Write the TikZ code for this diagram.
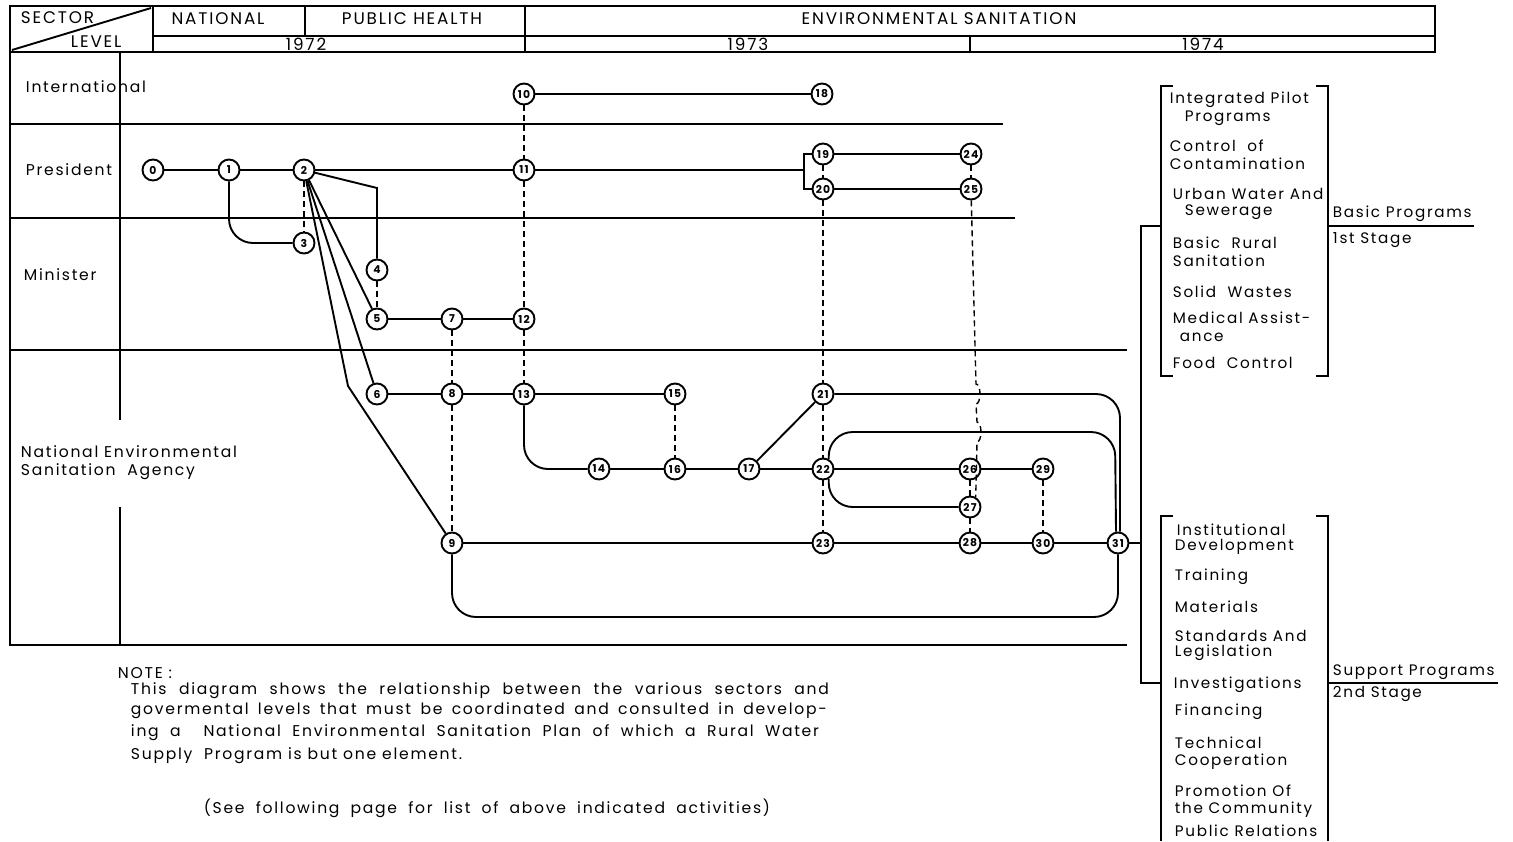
\documentclass[tikz,border=0pt]{standalone}
\usepackage{fontspec}
\setmainfont{Poppins}[LetterSpace=11.0]
\usetikzlibrary{positioning}

\begin{document}
\begin{tikzpicture}[x=0.5pt, y=-0.5pt, line width=0.95pt,
    every node/.style={font=\fontsize{7.8}{8}\selectfont, inner sep=0pt},
    evt/.style={circle, draw, line width=0.95pt, minimum size=10.5pt, inner sep=0pt,
      font=\fontsize{5.4}{5}\selectfont\bfseries},
    lbl/.style={anchor=west},
    progitem/.style={anchor=west, font=\fontsize{7.6}{8}\selectfont},
    hdr/.style={font=\fontsize{8.4}{8}\selectfont},
    depline/.style={line width=0.7pt, dash pattern=on 3pt off 2pt}]
  \useasboundingbox (0,0) rectangle (1513,841);
  % Header table
  \draw (10,6) rectangle (1435,52);
  \draw (153,36) -- (1435,36);
  \draw (153,6) -- (153,52) (305,6) -- (305,36) (525,6) -- (525,52) (970,36) -- (970,52);
  \draw (12,50) -- (151,8);
  \node[hdr, lbl] (hSector) at (20,18) {SECTOR};
  \node[hdr, lbl] (hLevel) at (70,42) {LEVEL};
  \node[hdr] (hNational) at (218,19) {NATIONAL};
  \node[hdr] (hPublic) at (412,19) {PUBLIC HEALTH};
  \node[hdr] (hEnv) at (939,19) {ENVIRONMENTAL  SANITATION};
  \node[hdr] (y72) at (306,44) {1972};
  \node[hdr] (y73) at (748,44) {1973};
  \node[hdr] (y74) at (1203,44) {1974};
  % Levels grid
  \draw (10,52) -- (10,645) -- (1127,645);
  \draw (120,52) -- (120,420) (120,507) -- (120,645);
  \draw (10,124) -- (1003,124);
  \draw (10,218) -- (1015,218);
  \draw (10,350) -- (1127,350);
  \node[lbl] (lvInt) at (25,87) {International};
  \node[lbl] (lvPres) at (25,170) {President};
  \node[lbl] (lvMin) at (23,275) {Minister};
  \node[lbl] (lvAgencyA) at (20,452) {National Environmental};
  \node[lbl] (lvAgencyB) at (20,472) {Sanitation\ \ Agency};
  % Activities
  \node[evt] (n0) at (153,170) {0};
  \node[evt] (n1) at (229,170) {1};
  \node[evt] (n2) at (304,170) {2};
  \node[evt] (n3) at (304,243) {3};
  \node[evt] (n4) at (377,270) {4};
  \node[evt] (n5) at (377,319) {5};
  \node[evt] (n6) at (377,394) {6};
  \node[evt] (n7) at (452,319) {7};
  \node[evt] (n8) at (452,394) {8};
  \node[evt] (n9) at (452,543) {9};
  \node[evt] (n10) at (524,94) {10};
  \node[evt] (n11) at (524,170) {11};
  \node[evt] (n12) at (524,319) {12};
  \node[evt] (n13) at (524,394) {13};
  \node[evt] (n14) at (599,469) {14};
  \node[evt] (n15) at (675,394) {15};
  \node[evt] (n16) at (675,469) {16};
  \node[evt] (n17) at (749,469) {17};
  \node[evt] (n18) at (822,94) {18};
  \node[evt] (n19) at (823,154) {19};
  \node[evt] (n20) at (823,189) {20};
  \node[evt] (n21) at (823,394) {21};
  \node[evt] (n22) at (823,469) {22};
  \node[evt] (n23) at (823,543) {23};
  \node[evt] (n24) at (971,154) {24};
  \node[evt] (n25) at (971,189) {25};
  \node[evt] (n26) at (970,469) {26};
  \node[evt] (n27) at (970,507) {27};
  \node[evt] (n28) at (970,543) {28};
  \node[evt] (n29) at (1043,469) {29};
  \node[evt] (n30) at (1043,543) {30};
  \node[evt] (n31) at (1118,543) {31};
  % Solid sequences
  \draw (n0) -- (n1) -- (n2) -- (n11) -- (804,170);
  \draw (n19.west) -| (804,170) |- (n20.west);
  \draw (n10) -- (n18);
  \draw (n19) -- (n24);
  \draw (n20) -- (n25);
  \draw[rounded corners=12pt] (n1) |- (n3);
  \draw (n2) -- (377,188) -- (n4);
  \draw (n2) -- (n5);
  \draw (n2) -- (n6);
  \draw (n2) -- (348,386) -- (n9);
  \draw (n5) -- (n7) -- (n12);
  \draw (n6) -- (n8) -- (n13) -- (n15);
  \draw[rounded corners=12pt] (n13) |- (n14);
  \draw (n14) -- (n16) -- (n17) -- (n22) -- (n26) -- (n29);
  \draw (n17) -- (n21);
  \draw[rounded corners=12pt] (n21) -- (1120,394) -- (n31.80);
  \draw[rounded corners=12pt] (n22.60) |- (1115,432) -- (n31.100);
  \draw[rounded corners=12pt] (n22.300) |- (n27);
  \draw (n9) -- (n23) -- (n28) -- (n30) -- (n31);
  \draw[rounded corners=12pt] (n9) |- (1118,617) -- (n31);
  % Dashed relations
  \draw[depline] (n2) -- (n3);
  \draw[depline] (n4) -- (n5);
  \draw[depline] (n7) -- (n8) -- (n9);
  \draw[depline] (n10) -- (n11) -- (n12) -- (n13);
  \draw[depline] (n15) -- (n16);
  \draw[depline] (n19) -- (n20) -- (n21) -- (n22) -- (n23);
  \draw[depline] (n24) -- (n25);
  \draw[depline] (n26) -- (n27) -- (n28);
  \draw[depline] (n29) -- (n30);
  \draw[depline] (n25) -- (976,384) arc[start angle=-90, end angle=90, x radius=4, y radius=10]
    -- (977,422) arc[start angle=-90, end angle=90, x radius=4, y radius=10] -- (n27.60);
  % Programs
  \coordinate (busTop) at (1141,226);
  \coordinate (busMid) at (1141,543);
  \coordinate (busBot) at (1141,683);
  \draw (n31) -- (busMid);
  \draw (1161,226) -- (busTop) -- (busBot) -- (1161,683);
  \draw (1173,86) -- (1161,86) -- (1161,376) -- (1173,376);
  \draw (1316,86) -- (1328,86) -- (1328,376) -- (1316,376);
  \draw (1173,516) -- (1161,516) -- (1161,841);
  \draw (1316,516) -- (1328,516) -- (1328,841);
  \draw (1328,226) -- (1474,226);
  \draw (1328,683) -- (1498,683);
  \node[progitem] (basicProg) at (1332,214) {Basic Programs};
  \node[progitem] (basicStage) at (1332,240) {1st Stage};
  \node[progitem] (supProg) at (1332,672) {Support Programs};
  \node[progitem] (supStage) at (1332,694) {2nd Stage};
  \node[progitem] (bp1) at (1169,100) {Integrated Pilot};
  \node[progitem] (bp1b) at (1184,118) {Programs};
  \node[progitem] (bp2) at (1169,146) {Control\ \ of};
  \node[progitem] (bp2b) at (1169,164) {Contamination};
  \node[progitem] (bp3) at (1172,194) {Urban Water And};
  \node[progitem] (bp3b) at (1184,212) {Sewerage};
  \node[progitem] (bp4) at (1172,243) {Basic\ \ Rural};
  \node[progitem] (bp4b) at (1172,261) {Sanitation};
  \node[progitem] (bp5) at (1172,292) {Solid\ \ Wastes};
  \node[progitem] (bp6) at (1172,318) {Medical Assist-};
  \node[progitem] (bp6b) at (1179,337) {ance};
  \node[progitem] (bp7) at (1172,363) {Food\ \ Control};
  \node[progitem] (sp1) at (1176,530) {Institutional};
  \node[progitem] (sp1b) at (1174,547) {Development};
  \node[progitem] (sp2) at (1174,577) {Training};
  \node[progitem] (sp3) at (1174,607) {Materials};
  \node[progitem] (sp4) at (1174,636) {Standards And};
  \node[progitem] (sp4b) at (1174,653) {Legislation};
  \node[progitem] (sp5) at (1173,685) {Investigations};
  \node[progitem] (sp6) at (1174,712) {Financing};
  \node[progitem] (sp7) at (1174,743) {Technical};
  \node[progitem] (sp7b) at (1174,762) {Cooperation};
  \node[progitem] (sp8) at (1174,791) {Promotion Of};
  \node[progitem] (sp8b) at (1174,810) {the Community};
  \node[progitem] (sp9) at (1174,831) {Public Relations};
  % Note
  \node[lbl] (noteHead) at (117,673) {NOTE :};
  \node[lbl] (noteA) at (130,691) {\makebox[349pt][s]{This diagram shows the relationship between the various sectors and}};
  \node[lbl] (noteB) at (130,711) {\makebox[348pt][s]{govermental levels that must be coordinated and consulted in develop-}};
  \node[lbl] (noteC) at (130,733) {\makebox[344pt][s]{ing a\ \ National Environmental Sanitation Plan of which a Rural Water}};
  \node[lbl] (noteD) at (130,756) {Supply\ \ Program is but one element.};
  \node[lbl] (noteSee) at (203,808) {\makebox[283pt][s]{(See following page for list of above indicated activities)}};
\end{tikzpicture}
\end{document}
